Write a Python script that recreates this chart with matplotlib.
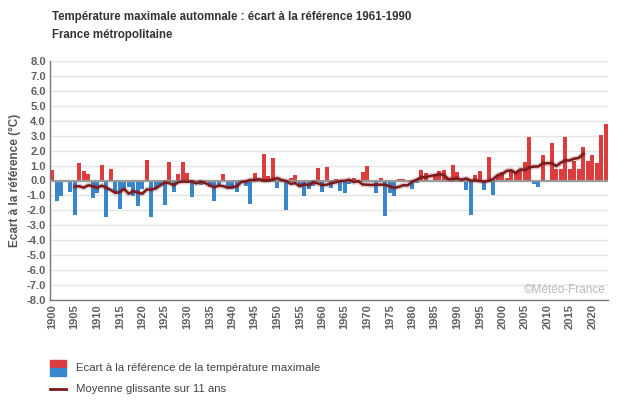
import matplotlib.pyplot as plt
import matplotlib.patches as mpatches
import matplotlib.lines as mlines
import numpy as np
import pandas as pd

plt.rcParams['font.family'] = ['Liberation Sans', 'DejaVu Sans']

years = list(range(1900, 2024))

# écart à la référence 1961-1990, par décennie
ecart = [
    0.69, -1.36, -1.02, 0.0, -0.76, -2.31, 1.16, 0.62, 0.42, -1.16,    # 1900
    -0.82, 1.02, -2.42, 0.76, -0.76, -1.89, -0.69, -0.42, -1.02, -1.69,  # 1910
    -0.56, 1.36, -2.42, -0.49, -0.31, -1.62, 1.22, -0.76, 0.42, 1.22,   # 1920
    0.49, -1.09, -0.05, -0.27, -0.05, -0.42, -1.36, -0.27, 0.42, -0.49,  # 1930
    -0.56, -0.76, 0.02, -0.36, -1.56, 0.49, 0.10, 1.76, 0.29, 1.49,     # 1940
    -0.51, 0.05, -1.96, 0.16, 0.36, -0.42, -1.02, -0.56, -0.36, 0.82,   # 1950
    -0.76, 0.89, -0.51, 0.09, -0.67, -0.82, -0.22, 0.16, 0.05, 0.60,    # 1960
    0.96, 0.02, -0.82, 0.16, -2.36, -0.82, -1.02, 0.08, 0.08, 0.0,      # 1970
    -0.57, -0.16, 0.69, 0.48, 0.05, 0.37, 0.62, 0.69, 0.15, 1.02,       # 1980
    0.56, 0.10, -0.64, -2.28, 0.36, 0.62, -0.62, 1.56, -0.96, 0.35,     # 1990
    0.55, 0.16, 0.69, 0.55, 0.72, 1.22, 2.89, -0.22, -0.42, 1.69,       # 2000
    -0.13, 2.49, 0.76, 0.76, 2.89, 0.76, 1.29, 0.76, 2.22, 1.29,        # 2010
    1.69, 1.16, 3.02, 3.76,                                            # 2020
]

xtick_years = list(range(1900, 2021, 5))
ytick_vals = list(np.arange(-8, 8.1, 1.0))

red = '#dc3c3e'
blue = '#3a86cc'
line_col = '#7a1a1c'

moyenne = pd.Series(ecart, index=years).rolling(11, center=True).mean()

fig = plt.figure(figsize=(6.3, 4.05), dpi=100)
ax = fig.add_axes([50 / 630, 1 - 300 / 405, 558 / 630, 239 / 405])

colors = [red if v >= 0 else blue for v in ecart]
ax.bar(years, ecart, width=0.82, color=colors, zorder=2)
ax.axhline(0, color='#9a9a9a', lw=1.6, zorder=3)

# moyenne glissante avec ombre
ax.plot(moyenne.index, moyenne.values, color=line_col, lw=4.0, alpha=0.22, zorder=4)
ax.plot(moyenne.index, moyenne.values, color=line_col, lw=1.8, zorder=5)

ax.set_xlim(1899.5, 2023.5)
ax.set_ylim(-8, 8)
ax.set_yticks(ytick_vals)
ax.set_yticklabels(['%.1f' % v for v in ytick_vals], fontweight='bold', fontsize=8, color='#606060')
ax.set_xticks(xtick_years)
ax.set_xticklabels([str(y) for y in xtick_years], rotation=90, fontweight='bold',
                   fontsize=8, color='#606060')
ax.tick_params(axis='both', length=0, pad=3)
ax.yaxis.grid(True, color='#e4e4e4', lw=1.0, zorder=0)
ax.set_axisbelow(True)

for s in ['top', 'right']:
    ax.spines[s].set_visible(False)
ax.spines['left'].set_color('#777777')
ax.spines['bottom'].set_color('#777777')
ax.spines['left'].set_linewidth(1)
ax.spines['bottom'].set_linewidth(1)

ax.set_ylabel('Ecart à la référence (°C)', fontweight='bold', fontsize=8.5, color='#555555', labelpad=4)

ax.text(0.995, 0.015, '©Météo-France', transform=ax.transAxes, ha='right', va='bottom',
        fontsize=8.5, color='#b8b8b8')

fig.text(52 / 630, 1 - 17 / 405, 'Température maximale automnale : écart à la référence 1961-1990',
         fontweight='bold', fontsize=8.3, color='#333333', va='center')
fig.text(52 / 630, 1 - 35 / 405, 'France métropolitaine',
         fontweight='bold', fontsize=8.3, color='#333333', va='center')

# légende
fig.add_artist(mpatches.Rectangle((50 / 630, 1 - 368 / 405), 16 / 630, 8 / 405,
                                  transform=fig.transFigure, color=red))
fig.add_artist(mpatches.Rectangle((50 / 630, 1 - 376 / 405), 16 / 630, 8 / 405,
                                  transform=fig.transFigure, color=blue))
fig.text(76 / 630, 1 - 368 / 405, 'Ecart à la référence de la température maximale',
         fontsize=8.2, color='#444444', va='center')
fig.add_artist(mlines.Line2D([50 / 630, 66 / 630], [1 - 389 / 405, 1 - 389 / 405],
                             transform=fig.transFigure, color=line_col, lw=2))
fig.text(76 / 630, 1 - 389 / 405, 'Moyenne glissante sur 11 ans',
         fontsize=8.2, color='#444444', va='center')

fig.savefig('out.png', dpi=100)
